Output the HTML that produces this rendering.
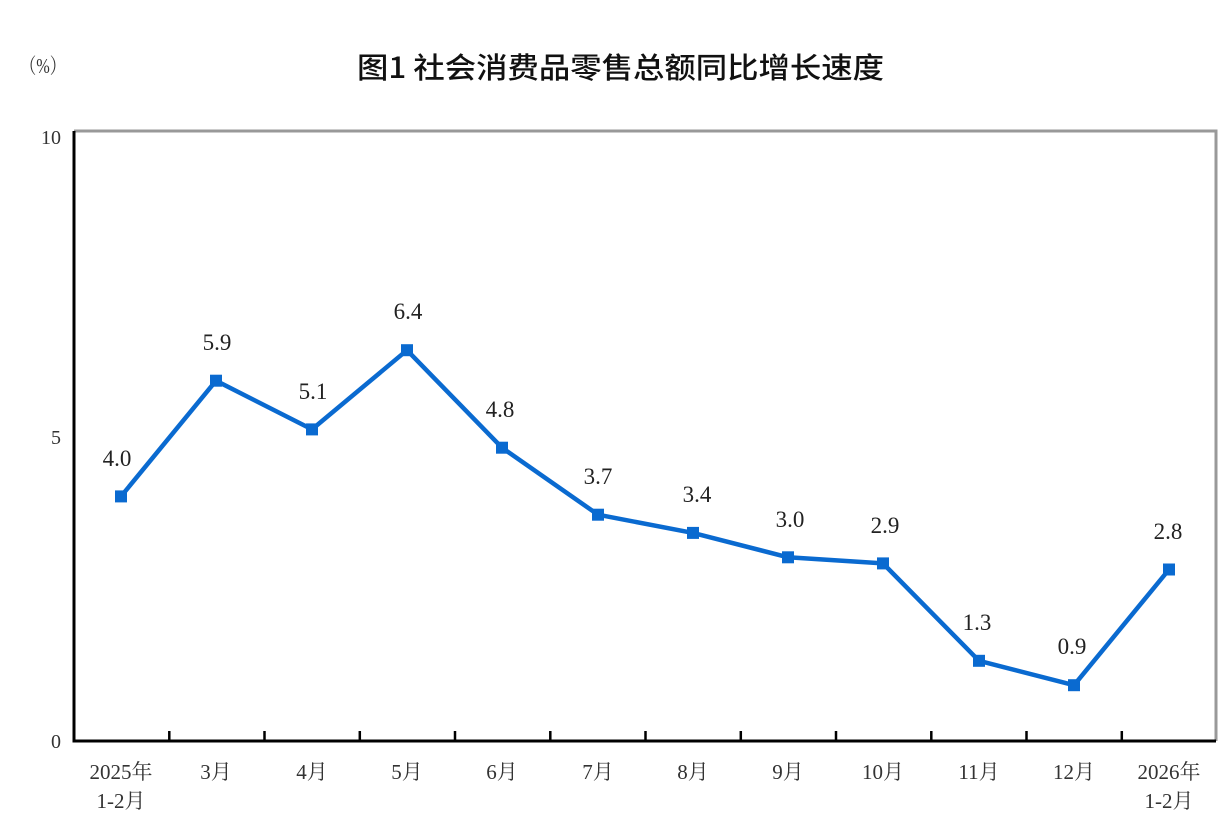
<!DOCTYPE html>
<html><head><meta charset="utf-8"><style>html,body{margin:0;padding:0;background:#fff;}</style></head>
<body>
<svg width="1224" height="831" xmlns="http://www.w3.org/2000/svg">
<rect width="1224" height="831" fill="#fff"/>
<text x="357" y="78" font-family="'Noto Sans CJK SC',sans-serif" font-weight="500" font-size="29" fill="#111" textLength="527" lengthAdjust="spacingAndGlyphs">图1 社会消费品零售总额同比增长速度</text>
<text x="20" y="73" font-family="'Liberation Serif','Noto Serif CJK SC',serif" font-size="21" fill="#333" textLength="46" lengthAdjust="spacingAndGlyphs">（%）</text>
<polyline points="74,131 1216,131 1216,741" fill="none" stroke="#999" stroke-width="3"/>
<polyline points="74,131 74,741 1216,741" fill="none" stroke="#000" stroke-width="3"/>
<g stroke="#000" stroke-width="2.5">
<line x1="169.3" y1="741" x2="169.3" y2="731"/><line x1="264.5" y1="741" x2="264.5" y2="731"/><line x1="359.8" y1="741" x2="359.8" y2="731"/><line x1="455" y1="741" x2="455" y2="731"/><line x1="550.3" y1="741" x2="550.3" y2="731"/><line x1="645.5" y1="741" x2="645.5" y2="731"/><line x1="740.8" y1="741" x2="740.8" y2="731"/><line x1="836" y1="741" x2="836" y2="731"/><line x1="931.3" y1="741" x2="931.3" y2="731"/><line x1="1026.5" y1="741" x2="1026.5" y2="731"/><line x1="1121.8" y1="741" x2="1121.8" y2="731"/>
</g>
<g font-family="'Liberation Serif',serif" font-size="20" fill="#333" text-anchor="end">
<text x="61" y="144">10</text><text x="61" y="444">5</text><text x="61" y="748">0</text>
</g>
<g font-family="'Liberation Serif','Noto Serif CJK SC',serif" font-size="21" fill="#333" text-anchor="middle">
<text x="121" y="779">2025年</text><text x="121" y="808">1-2月</text>
<text x="216" y="779">3月</text><text x="312" y="779">4月</text><text x="407" y="779">5月</text><text x="502" y="779">6月</text><text x="598" y="779">7月</text><text x="693" y="779">8月</text><text x="788" y="779">9月</text><text x="883" y="779">10月</text><text x="979" y="779">11月</text><text x="1074" y="779">12月</text>
<text x="1169" y="779">2026年</text><text x="1169" y="808">1-2月</text>
</g>
<polyline fill="none" stroke="#0a6ad0" stroke-width="4.5" stroke-linejoin="round" points="121,496.4 216,380.7 312,429.4 407,350.2 502,447.7 598,514.7 693,532.9 788,557.3 883,563.4 979,660.8 1074,685.2 1169,569.5"/>
<g fill="#0a6ad0">
<rect x="115" y="490.4" width="12" height="12"/><rect x="210" y="374.7" width="12" height="12"/><rect x="306" y="423.4" width="12" height="12"/><rect x="401" y="344.2" width="12" height="12"/><rect x="496" y="441.7" width="12" height="12"/><rect x="592" y="508.7" width="12" height="12"/><rect x="687" y="526.9" width="12" height="12"/><rect x="782" y="551.3" width="12" height="12"/><rect x="877" y="557.4" width="12" height="12"/><rect x="973" y="654.8" width="12" height="12"/><rect x="1068" y="679.2" width="12" height="12"/><rect x="1163" y="563.5" width="12" height="12"/>
</g>
<g font-family="'Liberation Serif',serif" font-size="23" fill="#222" text-anchor="middle">
<text x="117" y="466">4.0</text><text x="217" y="350">5.9</text><text x="313" y="399">5.1</text><text x="408" y="319">6.4</text><text x="500" y="417">4.8</text><text x="598" y="484">3.7</text><text x="697" y="502">3.4</text><text x="790" y="527">3.0</text><text x="885" y="533">2.9</text><text x="977" y="630">1.3</text><text x="1072" y="654">0.9</text><text x="1168" y="539">2.8</text>
</g>
</svg>
</body></html>
